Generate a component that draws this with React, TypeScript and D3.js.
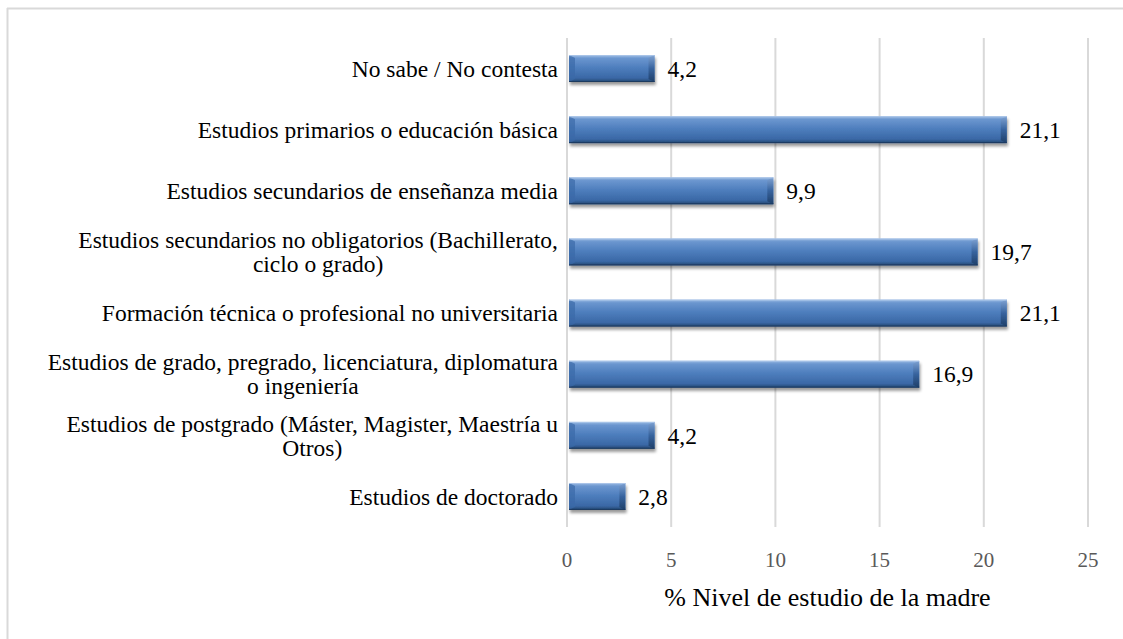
import React, { useRef, useLayoutEffect } from "react";
import * as d3 from "d3";

const categories = [
  "No sabe / No contesta",
  "Estudios primarios o educación básica",
  "Estudios secundarios de enseñanza media",
  "Estudios secundarios no obligatorios (Bachillerato,\nciclo o grado)",
  "Formación técnica o profesional no universitaria",
  "Estudios de grado, pregrado, licenciatura, diplomatura\no ingeniería",
  "Estudios de postgrado (Máster, Magister, Maestría u\nOtros)",
  "Estudios de doctorado",
];
const values = [4.2, 21.1, 9.9, 19.7, 21.1, 16.9, 4.2, 2.8];
const xTicks = [0, 5, 10, 15, 20, 25];
const axisTitle = "% Nivel de estudio de la madre";

const W = 1123;
const H = 639;
const margin = { top: 38, right: 35, bottom: 112, left: 567 };
const SERIF = "'Liberation Serif', 'Times New Roman', serif";
const LABEL_SIZE = 23.5;
const LABEL_RIGHT = margin.left - 9;

const fmt = d3.formatLocale({ decimal: ",", thousands: ".", grouping: [3], currency: ["", ""] }).format(".1f");

export default function App() {
  const svgRef = useRef<SVGSVGElement>(null);

  const x = d3.scaleLinear().domain([0, 25]).range([margin.left, W - margin.right]);
  const y = d3
    .scaleBand<string>()
    .domain(categories)
    .range([margin.top, H - margin.bottom])
    .paddingInner(0.56)
    .paddingOuter(0.28);
  const bh = y.bandwidth();

  // wrapped labels: every line centred under the (right-aligned) first line
  useLayoutEffect(() => {
    d3.select(svgRef.current)
      .selectAll<SVGTextElement, unknown>("text.cat")
      .each(function () {
        const spans = d3.select(this).selectAll<SVGTSpanElement, unknown>("tspan");
        if (spans.size() < 2) return;
        const first = spans.node()!;
        const w = first.getComputedTextLength();
        spans.attr("x", LABEL_RIGHT - w / 2).attr("text-anchor", "middle");
      });
  }, []);

  return (
    <svg
      ref={svgRef}
      width={W}
      height={H}
      style={{ position: "absolute", left: 0, top: 0, background: "#fff" }}
    >
      <defs>
        <linearGradient id="barFill" x1="0" y1="0" x2="0" y2="1">
          <stop offset="0" stopColor="#9bbbe3" />
          <stop offset="0.12" stopColor="#6b96cf" />
          <stop offset="0.45" stopColor="#4f7fbe" />
          <stop offset="0.85" stopColor="#3a68a6" />
          <stop offset="1" stopColor="#23466f" />
        </linearGradient>
        <linearGradient id="bevelEnd" x1="0" y1="0" x2="0" y2="1">
          <stop offset="0" stopColor="#7fa2d2" />
          <stop offset="0.5" stopColor="#37639e" />
          <stop offset="1" stopColor="#1f3f68" />
        </linearGradient>
        <filter id="shadow" x="-5%" y="-30%" width="115%" height="180%">
          <feGaussianBlur in="SourceAlpha" stdDeviation="1.6" />
          <feOffset dx="1" dy="2.5" result="b" />
          <feComponentTransfer>
            <feFuncA type="linear" slope="0.4" />
          </feComponentTransfer>
          <feMerge>
            <feMergeNode />
            <feMergeNode in="SourceGraphic" />
          </feMerge>
        </filter>
      </defs>

      {/* outer frame */}
      <line x1={7} y1={8.5} x2={W} y2={8.5} stroke="#d9d9d9" strokeWidth={2} />
      <line x1={7.5} y1={8} x2={7.5} y2={H} stroke="#d9d9d9" strokeWidth={2} />

      {/* gridlines */}
      {xTicks.map((t) => (
        <line
          key={t}
          x1={x(t)}
          x2={x(t)}
          y1={margin.top}
          y2={H - margin.bottom}
          stroke="#d9d9d9"
          strokeWidth={2}
        />
      ))}

      {/* bars */}
      {categories.map((c, i) => {
        const y0 = y(c)!;
        const x0 = x(0) + 2;
        const x1 = x(values[i]);
        const bev = Math.min(6, (x1 - x0) / 4);
        return (
          <g key={c} filter="url(#shadow)">
            <rect x={x0} y={y0} width={x1 - x0} height={bh} fill="url(#barFill)" />
            <polygon
              points={`${x1 - bev},${y0 + 3} ${x1},${y0} ${x1},${y0 + bh} ${x1 - bev},${y0 + bh - 3}`}
              fill="url(#bevelEnd)"
            />
            <polygon
              points={`${x0},${y0} ${x0 + bev},${y0 + 3} ${x0 + bev},${y0 + bh - 3} ${x0},${y0 + bh}`}
              fill="#3b69a8"
              opacity={0.7}
            />
            <line x1={x0} x2={x1} y1={y0 + 0.5} y2={y0 + 0.5} stroke="#a9c4e8" strokeWidth={1} />
            <line x1={x0} x2={x1} y1={y0 + bh - 0.5} y2={y0 + bh - 0.5} stroke="#1d3a60" strokeWidth={1} />
          </g>
        );
      })}

      {/* value labels */}
      {categories.map((c, i) => (
        <text
          key={"v" + c}
          x={x(values[i]) + 13}
          y={y(c)! + bh / 2}
          dy="0.35em"
          fontFamily={SERIF}
          fontSize={LABEL_SIZE}
          fill="#000"
        >
          {fmt(values[i])}
        </text>
      ))}

      {/* category labels */}
      {categories.map((c) => {
        const lines = c.split("\n");
        const cy = y(c)! + bh / 2;
        const lh = 24;
        return (
          <text key={"c" + c} className="cat" fontFamily={SERIF} fontSize={LABEL_SIZE} fill="#000">
            {lines.map((ln, j) => (
              <tspan
                key={j}
                x={LABEL_RIGHT}
                y={cy + (j - (lines.length - 1) / 2) * lh}
                dy="0.35em"
                textAnchor="end"
              >
                {ln}
              </tspan>
            ))}
          </text>
        );
      })}

      {/* x tick labels */}
      {xTicks.map((t) => (
        <text
          key={"t" + t}
          x={x(t)}
          y={H - margin.bottom + 33}
          dy="0.35em"
          textAnchor="middle"
          fontFamily={SERIF}
          fontSize={21}
          fill="#595959"
        >
          {t}
        </text>
      ))}

      <text
        x={(x(0) + x(25)) / 2}
        y={H - margin.bottom + 70}
        dy="0.35em"
        textAnchor="middle"
        fontFamily={SERIF}
        fontSize={26}
        fill="#000"
      >
        {axisTitle}
      </text>
    </svg>
  );
}
